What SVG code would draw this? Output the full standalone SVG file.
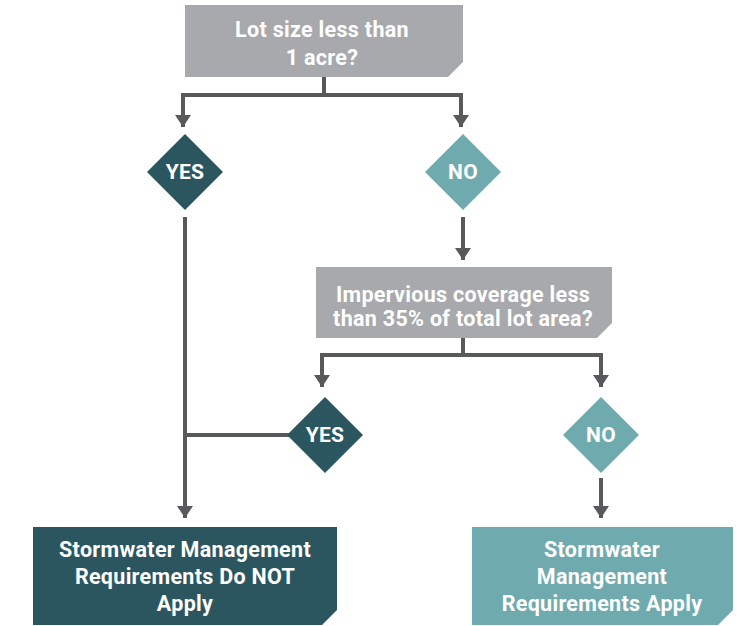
<svg xmlns="http://www.w3.org/2000/svg" width="742" height="626" viewBox="0 0 742 626">
<defs>
<style>
.t{font-family:"Roboto","Liberation Sans",sans-serif;font-weight:700;fill:#ffffff;text-anchor:middle;font-size:21.5px;letter-spacing:0.3px}
.d{font-size:21px}
.grey{fill:#a7a9ac}
.dark{fill:#2b5660}
.light{fill:#6fabae}
.ln{stroke:#58595b;stroke-width:4;fill:none}
</style>
</defs>
<rect width="742" height="626" fill="#ffffff"/>
<g id="connectors">
<path class="ln" d="M324,77 V95"/>
<path class="ln" d="M183,95 H461"/>
<path class="ln" d="M183,93 V127"/>
<path class="ln" d="M461,93 V127"/>
<path class="ln" d="M185,217 V518"/>
<path class="ln" d="M463,217 V260"/>
<path class="ln" d="M463,338 V355"/>
<path class="ln" d="M322,355 H603"/>
<path class="ln" d="M322,353 V387"/>
<path class="ln" d="M601,353 V387"/>
<path class="ln" d="M185,435 H290"/>
<path class="ln" d="M601,478 V518"/>
<g fill="#58595b">
<path d="M175,115 H191 L183,127 Z"/>
<path d="M453,115 H469 L461,127 Z"/>
<path d="M455,248 H471 L463,260 Z"/>
<path d="M314,375 H330 L322,387 Z"/>
<path d="M593,375 H609 L601,387 Z"/>
<path d="M177,506 H193 L185,518 Z"/>
<path d="M593,506 H609 L601,518 Z"/>
</g>
</g>
<g id="q1">
<path class="grey" d="M185,5 H463 V62 L448,77 H185 Z"/>
<text class="t" x="322" y="37">Lot size less than</text>
<text class="t" x="322" y="65">1 acre?</text>
</g>
<g id="yes1">
<path class="dark" d="M185,134 L223,172 L185,210 L147,172 Z"/>
<text class="t d" x="185" y="179">YES</text>
</g>
<g id="no1">
<path class="light" d="M463,134 L501,172 L463,210 L425,172 Z"/>
<text class="t d" x="463" y="179">NO</text>
</g>
<g id="q2">
<path class="grey" d="M316,267 H612 V323 L597,338 H316 Z"/>
<text class="t" x="463" y="302">Impervious coverage less</text>
<text class="t" x="463" y="326">than 35% of total lot area?</text>
</g>
<g id="yes2">
<path class="dark" d="M325,397 L363,435 L325,473 L287,435 Z"/>
<text class="t d" x="325" y="442">YES</text>
</g>
<g id="no2">
<path class="light" d="M601,397 L639,435 L601,473 L563,435 Z"/>
<text class="t d" x="601" y="442">NO</text>
</g>
<g id="notapply">
<path class="dark" d="M33,527 H337 V610 L322,625 H33 Z"/>
<text class="t" x="185" y="557">Stormwater Management</text>
<text class="t" x="185" y="584">Requirements Do NOT</text>
<text class="t" x="185" y="611">Apply</text>
</g>
<g id="apply">
<path class="light" d="M472,527 H733 V610 L718,625 H472 Z"/>
<text class="t" x="602" y="557">Stormwater</text>
<text class="t" x="602" y="584">Management</text>
<text class="t" x="602" y="611">Requirements Apply</text>
</g>
</svg>
